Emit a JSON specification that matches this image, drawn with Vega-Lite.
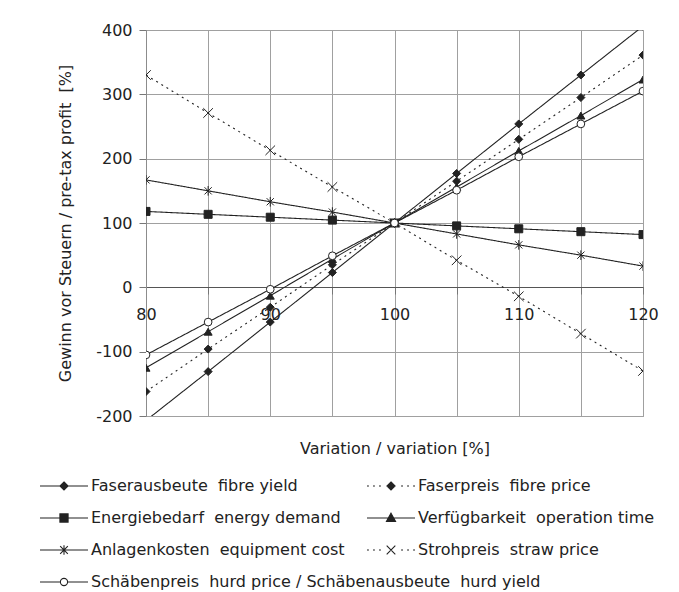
{
  "$schema": "https://vega.github.io/schema/vega-lite/v6.json",
  "width": 497,
  "height": 386,
  "autosize": "none",
  "padding": {"left": 146, "top": 30, "right": 36, "bottom": 176},
  "background": "white",
  "data": {"values": [
    {"x": 80, "v": -207, "s": "Faserausbeute\u00a0 fibre yield"},
    {"x": 85, "v": -131, "s": "Faserausbeute\u00a0 fibre yield"},
    {"x": 90, "v": -54, "s": "Faserausbeute\u00a0 fibre yield"},
    {"x": 95, "v": 23, "s": "Faserausbeute\u00a0 fibre yield"},
    {"x": 100, "v": 100, "s": "Faserausbeute\u00a0 fibre yield"},
    {"x": 105, "v": 177, "s": "Faserausbeute\u00a0 fibre yield"},
    {"x": 110, "v": 254, "s": "Faserausbeute\u00a0 fibre yield"},
    {"x": 115, "v": 330, "s": "Faserausbeute\u00a0 fibre yield"},
    {"x": 120, "v": 406, "s": "Faserausbeute\u00a0 fibre yield"},
    {"x": 80, "v": -162, "s": "Faserpreis\u00a0 fibre price"},
    {"x": 85, "v": -96, "s": "Faserpreis\u00a0 fibre price"},
    {"x": 90, "v": -31, "s": "Faserpreis\u00a0 fibre price"},
    {"x": 95, "v": 35, "s": "Faserpreis\u00a0 fibre price"},
    {"x": 100, "v": 100, "s": "Faserpreis\u00a0 fibre price"},
    {"x": 105, "v": 165, "s": "Faserpreis\u00a0 fibre price"},
    {"x": 110, "v": 230, "s": "Faserpreis\u00a0 fibre price"},
    {"x": 115, "v": 295, "s": "Faserpreis\u00a0 fibre price"},
    {"x": 120, "v": 361, "s": "Faserpreis\u00a0 fibre price"},
    {"x": 80, "v": 118, "s": "Energiebedarf\u00a0 energy demand"},
    {"x": 85, "v": 113.5, "s": "Energiebedarf\u00a0 energy demand"},
    {"x": 90, "v": 109, "s": "Energiebedarf\u00a0 energy demand"},
    {"x": 95, "v": 104.5, "s": "Energiebedarf\u00a0 energy demand"},
    {"x": 100, "v": 100, "s": "Energiebedarf\u00a0 energy demand"},
    {"x": 105, "v": 95.5, "s": "Energiebedarf\u00a0 energy demand"},
    {"x": 110, "v": 91, "s": "Energiebedarf\u00a0 energy demand"},
    {"x": 115, "v": 86.5, "s": "Energiebedarf\u00a0 energy demand"},
    {"x": 120, "v": 82, "s": "Energiebedarf\u00a0 energy demand"},
    {"x": 80, "v": -125, "s": "Verfügbarkeit\u00a0 operation time"},
    {"x": 85, "v": -69, "s": "Verfügbarkeit\u00a0 operation time"},
    {"x": 90, "v": -13, "s": "Verfügbarkeit\u00a0 operation time"},
    {"x": 95, "v": 44, "s": "Verfügbarkeit\u00a0 operation time"},
    {"x": 100, "v": 100, "s": "Verfügbarkeit\u00a0 operation time"},
    {"x": 105, "v": 156, "s": "Verfügbarkeit\u00a0 operation time"},
    {"x": 110, "v": 212, "s": "Verfügbarkeit\u00a0 operation time"},
    {"x": 115, "v": 267, "s": "Verfügbarkeit\u00a0 operation time"},
    {"x": 120, "v": 323, "s": "Verfügbarkeit\u00a0 operation time"},
    {"x": 80, "v": 167, "s": "Anlagenkosten\u00a0 equipment cost"},
    {"x": 85, "v": 150, "s": "Anlagenkosten\u00a0 equipment cost"},
    {"x": 90, "v": 133, "s": "Anlagenkosten\u00a0 equipment cost"},
    {"x": 95, "v": 117, "s": "Anlagenkosten\u00a0 equipment cost"},
    {"x": 100, "v": 100, "s": "Anlagenkosten\u00a0 equipment cost"},
    {"x": 105, "v": 83, "s": "Anlagenkosten\u00a0 equipment cost"},
    {"x": 110, "v": 66, "s": "Anlagenkosten\u00a0 equipment cost"},
    {"x": 115, "v": 50, "s": "Anlagenkosten\u00a0 equipment cost"},
    {"x": 120, "v": 33, "s": "Anlagenkosten\u00a0 equipment cost"},
    {"x": 80, "v": 330, "s": "Strohpreis\u00a0 straw price"},
    {"x": 85, "v": 271, "s": "Strohpreis\u00a0 straw price"},
    {"x": 90, "v": 213, "s": "Strohpreis\u00a0 straw price"},
    {"x": 95, "v": 156, "s": "Strohpreis\u00a0 straw price"},
    {"x": 100, "v": 100, "s": "Strohpreis\u00a0 straw price"},
    {"x": 105, "v": 42, "s": "Strohpreis\u00a0 straw price"},
    {"x": 110, "v": -14, "s": "Strohpreis\u00a0 straw price"},
    {"x": 115, "v": -72, "s": "Strohpreis\u00a0 straw price"},
    {"x": 120, "v": -130, "s": "Strohpreis\u00a0 straw price"},
    {"x": 80, "v": -105, "s": "Schäbenpreis\u00a0 hurd price / Schäbenausbeute\u00a0 hurd yield"},
    {"x": 85, "v": -54, "s": "Schäbenpreis\u00a0 hurd price / Schäbenausbeute\u00a0 hurd yield"},
    {"x": 90, "v": -3, "s": "Schäbenpreis\u00a0 hurd price / Schäbenausbeute\u00a0 hurd yield"},
    {"x": 95, "v": 49, "s": "Schäbenpreis\u00a0 hurd price / Schäbenausbeute\u00a0 hurd yield"},
    {"x": 100, "v": 100, "s": "Schäbenpreis\u00a0 hurd price / Schäbenausbeute\u00a0 hurd yield"},
    {"x": 105, "v": 151, "s": "Schäbenpreis\u00a0 hurd price / Schäbenausbeute\u00a0 hurd yield"},
    {"x": 110, "v": 203, "s": "Schäbenpreis\u00a0 hurd price / Schäbenausbeute\u00a0 hurd yield"},
    {"x": 115, "v": 254, "s": "Schäbenpreis\u00a0 hurd price / Schäbenausbeute\u00a0 hurd yield"},
    {"x": 120, "v": 305, "s": "Schäbenpreis\u00a0 hurd price / Schäbenausbeute\u00a0 hurd yield"}
  ]},
  "encoding": {
    "x": {"field": "x", "type": "quantitative",
      "scale": {"domain": [80, 120], "nice": false, "zero": false},
      "axis": {"orient": "bottom", "offset": -129, "values": [80, 85, 90, 95, 100, 105, 110, 115, 120],
        "labelExpr": "datum.value % 10 == 0 ? '' + datum.value : ''",
        "tickSize": 7, "labelPadding": 12, "domainColor": "#555", "domainWidth": 1.2,
        "title": "Variation / variation [%]", "titlePadding": 118, "labelFlush": false, "labelOverlap": false}},
    "y": {"field": "v", "type": "quantitative",
      "scale": {"domain": [-200, 400], "nice": false, "zero": false},
      "axis": {"values": [-200, -100, 0, 100, 200, 300, 400], "labelExpr": "'' + datum.value",
        "tickSize": 7, "labelPadding": 7,
        "title": "Gewinn vor Steuern / pre-tax profit\u00a0 [%]", "titlePadding": 22}}
  },
  "layer": [
    {
      "mark": {"type": "line", "color": "#222", "strokeWidth": 1.1, "clip": true},
      "encoding": {
        "detail": {"field": "s", "type": "nominal"},
        "strokeDash": {"field": "s", "type": "nominal", "legend": null,
          "scale": {"domain": [
            "Faserausbeute\u00a0 fibre yield", "Faserpreis\u00a0 fibre price",
            "Energiebedarf\u00a0 energy demand", "Verfügbarkeit\u00a0 operation time",
            "Anlagenkosten\u00a0 equipment cost", "Strohpreis\u00a0 straw price",
            "Schäbenpreis\u00a0 hurd price / Schäbenausbeute\u00a0 hurd yield"],
            "range": [[1, 0], [2, 4], [1, 0], [1, 0], [1, 0], [2, 4], [1, 0]]}}
      }
    },
    {
      "transform": [{"filter": "indexof(datum.s, 'Schäbenpreis') < 0"}],
      "mark": {"type": "point", "size": 64, "stroke": "#222", "strokeWidth": 1, "opacity": 1, "clip": true},
      "encoding": {
        "shape": {"field": "s", "type": "nominal", "legend": null,
          "scale": {"domain": [
            "Faserausbeute\u00a0 fibre yield", "Faserpreis\u00a0 fibre price",
            "Energiebedarf\u00a0 energy demand", "Verfügbarkeit\u00a0 operation time",
            "Anlagenkosten\u00a0 equipment cost", "Strohpreis\u00a0 straw price"],
            "range": ["diamond", "diamond", "square", "triangle-up",
              "M-0.9,-0.9L0.9,0.9M-0.9,0.9L0.9,-0.9M0,-1.2V1.2",
              "M-1.2,-1.2L1.2,1.2M-1.2,1.2L1.2,-1.2"]}},
        "fill": {"field": "s", "type": "nominal", "legend": null,
          "scale": {"domain": [
            "Faserausbeute\u00a0 fibre yield", "Faserpreis\u00a0 fibre price",
            "Energiebedarf\u00a0 energy demand", "Verfügbarkeit\u00a0 operation time",
            "Anlagenkosten\u00a0 equipment cost", "Strohpreis\u00a0 straw price"],
            "range": ["#222", "#222", "#222", "#222", "transparent", "transparent"]}}
      }
    },
    {
      "transform": [{"filter": "indexof(datum.s, 'Schäbenpreis') >= 0"}],
      "mark": {"type": "point", "shape": "circle", "size": 60, "fill": "white", "stroke": "#222", "strokeWidth": 1, "opacity": 1, "clip": true}
    },
    {
      "transform": [{"filter": "false"}],
      "mark": {"type": "point", "filled": false, "color": "#222", "fill": "#222", "stroke": "#222", "strokeWidth": 1.1, "opacity": 1},
      "encoding": {
        "shape": {"field": "s", "type": "nominal",
          "scale": {"domain": [
            "Faserausbeute\u00a0 fibre yield", "Faserpreis\u00a0 fibre price",
            "Energiebedarf\u00a0 energy demand", "Verfügbarkeit\u00a0 operation time",
            "Anlagenkosten\u00a0 equipment cost", "Strohpreis\u00a0 straw price"],
            "range": [
              "M-1,0H1M0,-0.17L0.17,0L0,0.17L-0.17,0Z",
              "M-1,0H-0.92M-0.75,0H-0.67M-0.5,0H-0.42M0.42,0H0.5M0.67,0H0.75M0.92,0H1M0,-0.17L0.17,0L0,0.17L-0.17,0Z",
              "M-1,0H1M-0.17,-0.17H0.17V0.17H-0.17Z",
              "M-1,0H1M0,-0.2L0.19,0.14H-0.19Z",
              "M-1,0H1M-0.16,-0.16L0.16,0.16M-0.16,0.16L0.16,-0.16M0,-0.2V0.2",
              "M-1,0H-0.92M-0.75,0H-0.67M-0.5,0H-0.42M0.42,0H0.5M0.67,0H0.75M0.92,0H1M-0.18,-0.18L0.18,0.18M-0.18,0.18L0.18,-0.18"]},
          "legend": {"orient": "none", "direction": "horizontal", "legendX": -107, "legendY": 448, "columns": 2,
            "columnPadding": 21, "rowPadding": 16, "clipHeight": 16, "symbolSize": 2304,
            "symbolStrokeWidth": 1.1, "symbolOpacity": 1,
            "labelOffset": 2, "labelLimit": 1000, "title": null, "padding": 0, "gridAlign": "each"}}
      }
    },
    {
      "transform": [{"filter": "false"}],
      "mark": {"type": "point", "filled": false, "color": "#222", "fill": "white", "stroke": "#222", "strokeWidth": 1.1, "opacity": 1},
      "encoding": {
        "shape": {"field": "s", "type": "nominal",
          "scale": {"domain": ["Schäbenpreis\u00a0 hurd price / Schäbenausbeute\u00a0 hurd yield"],
            "range": ["M-1,0H-0.15M0.15,0H1M0.15,0A0.15,0.15,0,1,1,-0.15,0A0.15,0.15,0,1,1,0.15,0Z"]},
          "legend": {"orient": "none", "legendX": -107, "legendY": 544, "clipHeight": 16, "symbolSize": 2304,
            "symbolStrokeWidth": 1.1, "symbolOpacity": 1,
            "labelOffset": 2, "labelLimit": 1000, "title": null, "padding": 0}}
      }
    }
  ],
  "resolve": {"scale": {"shape": "independent"}, "legend": {"shape": "independent"}},
  "config": {
    "font": "DejaVu Sans",
    "view": {"stroke": "#8c8c8c", "strokeWidth": 1},
    "axis": {"labelFontSize": 16, "titleFontSize": 16, "titleFontWeight": "normal",
      "labelColor": "#222", "titleColor": "#222", "gridColor": "#a0a0a0", "gridWidth": 1,
      "tickColor": "#777", "domainColor": "#8c8c8c", "labelFont": "DejaVu Sans", "titleFont": "DejaVu Sans"},
    "legend": {"labelFontSize": 16, "labelColor": "#222", "labelFont": "DejaVu Sans"}
  }
}
